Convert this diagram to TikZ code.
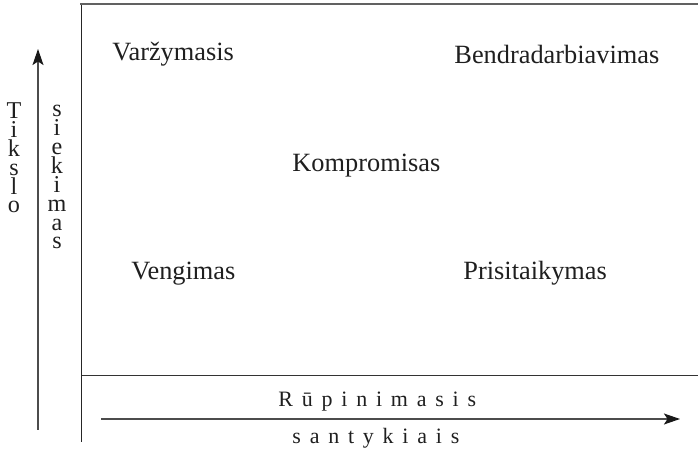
\documentclass[tikz,border=0pt]{standalone}
\usepackage{fontspec}
\setmainfont{Liberation Serif}
\newfontfamily\spacedfont[LetterSpace=40]{Liberation Serif}
\usetikzlibrary{arrows.meta}

\begin{document}
\begin{tikzpicture}[x=0.016cm, y=-0.016cm,
        quadrant/.style={anchor=base west, inner sep=0pt, text=black!88, font=\fontsize{12}{14}\selectfont},
        axisname/.style={anchor=base west, inner sep=0pt, text=black!88, font=\spacedfont\fontsize{10}{11}\selectfont},
        letters/.style={anchor=base, inner sep=0pt, align=center, text=black!88, font=\fontsize{11}{8.65}\selectfont},
        axis/.style={draw=black!70, line width=0.55pt, -{Stealth[length=7.3pt, width=5pt, inset=1.6pt, black!90]}}]
        \useasboundingbox (0,0) rectangle (698,451);
        % frame
        \draw[black!62, line width=0.95pt] (80,3.7) -- (698,3.7);
        \draw[black!85, line width=0.65pt] (81.5,5) -- (81.5,442);
        \draw[black!80, line width=0.5pt] (81.5,375.5) -- (698,375.5);
        % styles
        \node [quadrant] (varz) at (112,61) {Varžymasis};
        \node [quadrant] (bendr) at (454,64) {Bendradarbiavimas};
        \node [quadrant] (kompr) at (292,172) {Kompromisas};
        \node [quadrant] (veng) at (131,280) {Vengimas};
        \node [quadrant] (prisit) at (463,280) {Prisitaikymas};
        % axes
        \coordinate (ystart) at (38,430);
        \coordinate (yend) at (38,49);
        \coordinate (xstart) at (101,419);
        \coordinate (xend) at (680,419);
        \draw [axis] (ystart) -- (yend);
        \draw [axis] (xstart) -- (xend);
        \node [letters] (tikslo) at (14,213) {T\\i\\k\\s\\l\\o};
        \node [letters] (siekimas) at (57,249) {s\\i\\e\\k\\i\\m\\a\\s};
        \node [axisname] (rupin) at (278,407) {Rūpinimasis};
        \node [axisname] (santyk) at (292,444) {santykiais};
        \end{tikzpicture}
\end{document}
